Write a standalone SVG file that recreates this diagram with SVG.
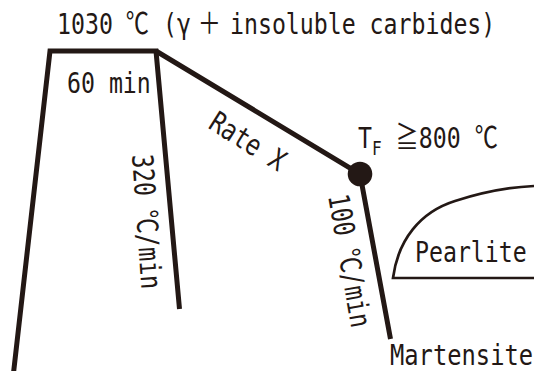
<svg xmlns="http://www.w3.org/2000/svg" width="534" height="371" viewBox="0 0 534 371">
<style>
.t{font-family:"DejaVu Sans Mono","Noto Sans CJK JP",monospace;font-size:29px;fill:#231815}
.cjk{font-family:"Noto Sans CJK JP","DejaVu Sans",sans-serif}
.ln{fill:none;stroke:#231815;stroke-width:5;stroke-linejoin:miter;stroke-linecap:butt}
.thin{fill:none;stroke:#231815;stroke-width:2.7}
</style>
<rect width="534" height="371" fill="#ffffff"/>
<g id="connectors">
<path class="ln" d="M13.5,373 L50,51 L156,51 L179.5,309"/>
<path class="ln" d="M156,51 L360,174 L390.5,339"/>
</g>
<g id="austenitize">
<text class="t" transform="translate(57,34) scale(0.8,1)"><tspan x="0">1030 </tspan><tspan x="86" class="cjk">℃</tspan><tspan x="132.5">(</tspan><tspan x="150">γ</tspan><tspan x="176" class="cjk">＋</tspan><tspan x="216.25">insoluble carbides)</tspan></text>
</g>
<g id="hold">
<text class="t" transform="translate(67,93) scale(0.8,1)">60 min</text>
</g>
<g id="fast-cool">
<text class="t" transform="translate(132,155) rotate(86) scale(0.8,1)">320 <tspan class="cjk">℃</tspan>/min</text>
</g>
<g id="rate-x">
<text class="t" transform="translate(207,127.6) rotate(32) scale(0.8,1)">Rate X</text>
</g>
<g id="tf">
<circle cx="360" cy="174" r="12.3" fill="#231815"/>
<text class="t" transform="translate(358,148) scale(0.8,1)">T<tspan x="17.5" dy="7" font-size="20">F</tspan><tspan dy="-7"> </tspan><tspan class="cjk">≧</tspan>800 <tspan class="cjk">℃</tspan></text>
</g>
<g id="slow-cool">
<text class="t" transform="translate(328,196) rotate(80) scale(0.8,1)">100 <tspan class="cjk">℃</tspan>/min</text>
</g>
<g id="pearlite">
<path class="thin" d="M534,278 L393,278 C398,240 420,212 455,201 C480,193 510,187 534,186"/>
<text class="t" transform="translate(415,262) scale(0.8,1)">Pearlite</text>
</g>
<g id="martensite">
<text class="t" font-size="28" transform="translate(390,364.5) scale(0.82,1)">Martensite</text>
</g>
</svg>
